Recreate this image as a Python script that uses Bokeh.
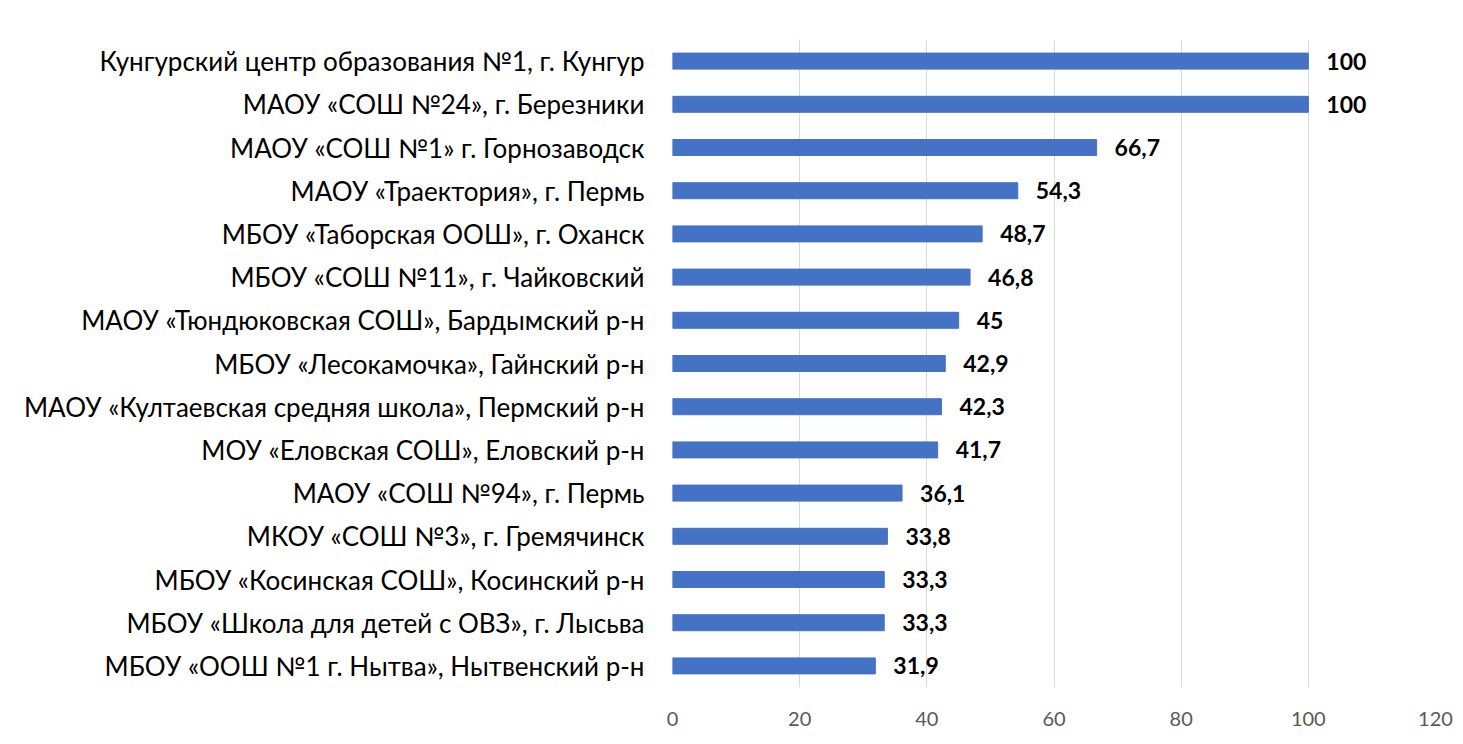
from bokeh.plotting import figure
from bokeh.models import ColumnDataSource, FactorRange, FixedTicker
from bokeh.core.properties import value
from bokeh.embed import file_html
from bokeh.resources import INLINE

categories = [
    "Кунгурский центр образования №1, г. Кунгур",
    "МАОУ «СОШ №24», г. Березники",
    "МАОУ «СОШ №1» г. Горнозаводск",
    "МАОУ «Траектория», г. Пермь",
    "МБОУ «Таборская ООШ», г. Оханск",
    "МБОУ «СОШ №11», г. Чайковский",
    "МАОУ «Тюндюковская СОШ», Бардымский р-н",
    "МБОУ «Лесокамочка», Гайнский р-н",
    "МАОУ «Култаевская средняя школа», Пермский р-н",
    "МОУ «Еловская СОШ», Еловский р-н",
    "МАОУ «СОШ №94», г. Пермь",
    "МКОУ «СОШ №3», г. Гремячинск",
    "МБОУ «Косинская СОШ», Косинский р-н",
    "МБОУ «Школа для детей с ОВЗ», г. Лысьва",
    "МБОУ «ООШ №1 г. Нытва», Нытвенский р-н",
]
values = [100, 100, 66.7, 54.3, 48.7, 46.8, 45, 42.9, 42.3, 41.7, 36.1, 33.8, 33.3, 33.3, 31.9]
x_ticks = [0, 20, 40, 60, 80, 100, 120]

labels = [(f"{v:g}").replace(".", ",") for v in values]
src = ColumnDataSource(dict(cat=categories, val=values, lab=labels))

FONT = "Lato"

p = figure(
    width=1455, height=736,
    y_range=FactorRange(factors=list(reversed(categories)), range_padding=0),
    x_range=(0, 120),
    output_backend="svg", toolbar_location=None,
    min_border_left=672, min_border_right=20, min_border_top=39, min_border_bottom=49,
)
p.hbar(y="cat", right="val", left=0, height=0.37, source=src, color="#4472C4")
p.text(x="val", y="cat", text="lab", source=src, x_offset=18,
       text_baseline="middle", text_align="left", text_font=value(FONT),
       text_font_style="bold", text_font_size="23px", text_color="black")

p.outline_line_color = None
p.ygrid.grid_line_color = None
p.xgrid.grid_line_color = "#d9d9d9"
p.xgrid.grid_line_width = 1
p.xaxis.ticker = FixedTicker(ticks=x_ticks)
p.xaxis.axis_line_color = None
p.xaxis.major_tick_line_color = None
p.xaxis.minor_tick_line_color = None
p.xaxis.major_label_text_font = FONT
p.xaxis.major_label_text_font_size = "20px"
p.xaxis.major_label_text_color = "#595959"
p.xaxis.major_label_standoff = 18

p.yaxis.axis_line_color = None
p.yaxis.major_tick_line_color = None
p.yaxis.minor_tick_line_color = None
p.yaxis.major_label_text_font = FONT
p.yaxis.major_label_text_font_size = "26px"
p.yaxis.major_label_text_color = "black"
p.yaxis.major_label_standoff = 22

open("out.html", "w").write(file_html(p, INLINE))
